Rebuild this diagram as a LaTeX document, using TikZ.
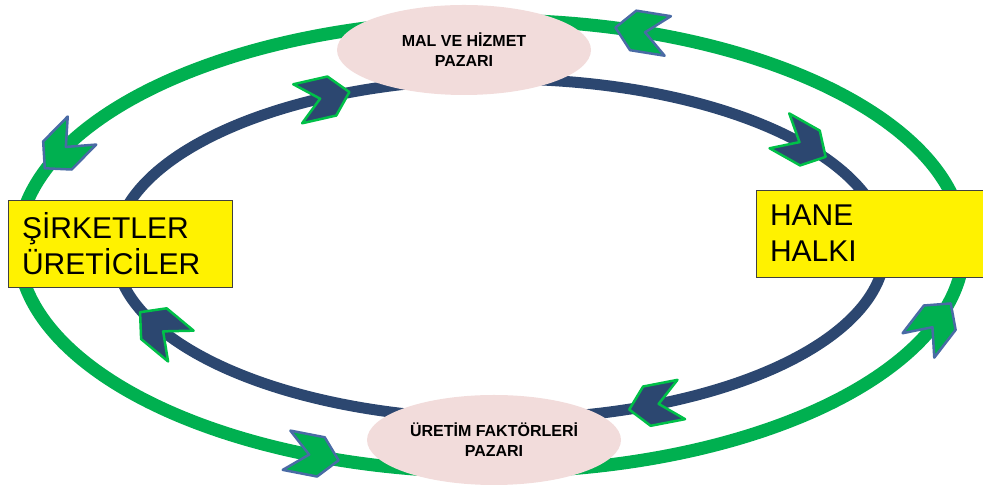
\documentclass[tikz,border=0pt]{standalone}
\usepackage{fontspec}
\setmainfont{Liberation Sans}
\usetikzlibrary{shapes.geometric}
\definecolor{ringgreen}{HTML}{00B050}
\definecolor{ringnavy}{HTML}{2C4770}
\definecolor{chevblue}{HTML}{4A6BA5}
\definecolor{chevgreen}{HTML}{00C048}
\definecolor{marketpink}{HTML}{F2DCDB}
\tikzstyle{market} = [ellipse, fill=marketpink, minimum width=254pt, minimum height=90pt, inner sep=0pt, align=center, font=\fontsize{16}{20}\selectfont\bfseries]
\tikzstyle{agent} = [rectangle, draw=black!75, line width=0.8pt, fill=yellow, minimum height=87pt, inner xsep=14pt, inner ysep=0pt, align=left, font=\fontsize{30}{36}\selectfont]
\tikzstyle{greenchev} = [fill=ringgreen, draw=chevblue, line width=2.5pt, line join=round]
\tikzstyle{navychev} = [fill=ringnavy, draw=chevgreen, line width=2.5pt, line join=round]
\tikzset{chevron/.pic={\path[pic actions] (26,0) -- (8,20) -- (-27,20) -- (-4,0) -- (-27,-20) -- (8,-20) -- cycle;}}

\begin{document}
\begin{tikzpicture}[x=1pt, y=1pt]
    \useasboundingbox (0,0) rectangle (983,489);

    % the two circuits
    \draw[ringgreen, line width=13pt] (491,243) ellipse (473 and 226);
    \draw[ringnavy, line width=11pt] (500,240) ellipse (385 and 170);

    \node (goods) [market] at (464,439) {MAL VE HİZMET\\PAZARI};
    \node (factors) [market] at (494,49) {ÜRETİM FAKTÖRLERİ\\PAZARI};

    \node (firms) [agent, text width=196pt] at (120,245.5) {ŞİRKETLER\\ÜRETİCİLER};
    \node (homes) [agent, text width=214pt] at (877,255.5) {HANE\\HALKI};

    % flow marks, outer ring counterclockwise, inner ring clockwise
    \foreach \t in {71.5,154.8,247.9,339.8} {
        \pgfmathsetmacro\ang{atan2(226*cos(\t),-473*sin(\t))}
        \path (491,243) ++(\t:473 and 226) pic[rotate=\ang, greenchev] {chevron};
    }
    \foreach \t in {117.2,38.1,-66.3,208} {
        \pgfmathsetmacro\ang{atan2(-170*cos(\t),385*sin(\t))}
        \path (500,240) ++(\t:385 and 170) pic[rotate=\ang, navychev] {chevron};
    }
\end{tikzpicture}
\end{document}
